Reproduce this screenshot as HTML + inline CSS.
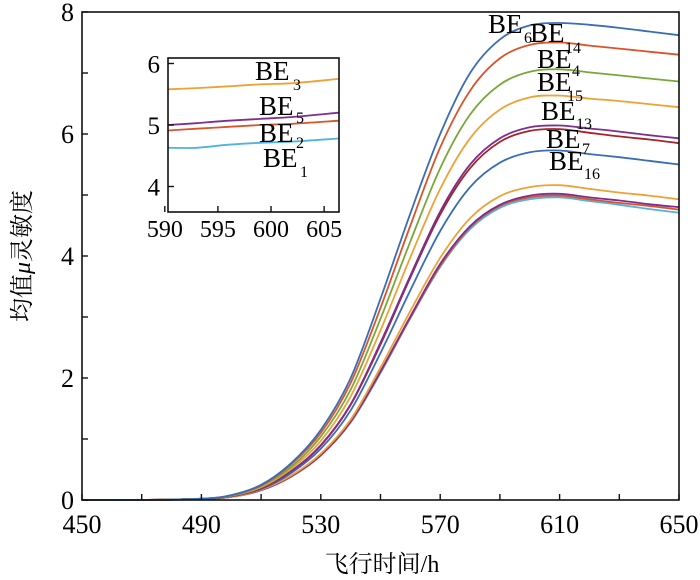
<!DOCTYPE html>
<html><head><meta charset="utf-8"><style>
body{margin:0;background:#fff}
svg{display:block}
text{font-family:"Liberation Serif","Noto Serif CJK SC",serif}
</style></head><body>
<svg id="chart" width="700" height="580" viewBox="0 0 700 580" font-family="Liberation Serif, Noto Serif CJK SC, serif"></svg>
<script>
const xs=[450,470,490,500,510,520,530,540,550,560,570,580,590,600,610,620,630,640,650];
const seriesNames=["BE6","BE14","BE4","BE15","BE13","BE7","BE16","BE3","BE5","BE2","BE1"];
const seriesColors=["#3a6db5","#d9542a","#78a83a","#eea236","#7e2f8e","#a2252a","#3a6db5","#eea236","#7e2f8e","#d9542a","#4fb2e0"];
const be6=[0,0,0.02,0.08,0.25,0.6,1.15,2.0,3.3,4.7,6.0,7.0,7.55,7.78,7.82,7.79,7.74,7.68,7.62];
const be14=[0,0,0.02,0.08,0.24,0.58,1.1,1.92,3.15,4.5,5.78,6.71,7.24,7.46,7.5,7.45,7.4,7.35,7.3];
const be4=[0,0,0.02,0.07,0.23,0.54,1.04,1.81,2.97,4.24,5.44,6.32,6.81,7.02,7.06,7.01,6.96,6.91,6.86];
const be15=[0,0,0.02,0.07,0.21,0.51,0.97,1.7,2.78,3.98,5.1,5.93,6.4,6.6,6.63,6.58,6.54,6.49,6.44];
const be13=[0,0,0.02,0.06,0.2,0.47,0.9,1.57,2.58,3.68,4.73,5.5,5.93,6.11,6.14,6.09,6.04,5.98,5.93];
const be7=[0,0,0.02,0.06,0.19,0.47,0.89,1.56,2.55,3.65,4.68,5.44,5.87,6.05,6.08,6.02,5.96,5.91,5.85];
const be16=[0,0,0.02,0.06,0.18,0.44,0.84,1.47,2.41,3.44,4.41,5.13,5.53,5.7,5.73,5.67,5.62,5.56,5.5];
const be3=[0,0,0.02,0.05,0.17,0.4,0.76,1.32,2.17,3.1,3.97,4.62,4.98,5.13,5.16,5.1,5.04,4.99,4.93];
const be5=[0,0,0.02,0.05,0.16,0.39,0.74,1.29,2.11,3.01,3.87,4.49,4.84,4.99,5.02,4.96,4.91,4.85,4.8];
const be2=[0,0,0.02,0.05,0.16,0.38,0.73,1.28,2.1,2.99,3.84,4.47,4.82,4.96,4.99,4.93,4.87,4.82,4.76];
const be1=[0,0,0.01,0.05,0.16,0.38,0.73,1.27,2.08,2.98,3.82,4.44,4.79,4.93,4.96,4.9,4.84,4.77,4.71];
const xTickLabels=[450,490,530,570,610,650];
const yTickLabels=[0,2,4,6,8];
const insetXs=[590.3,593,596,599,602,606.4];
const insetNames=["BE3","BE5","BE2","BE1"];
const insetColors=["#eea236","#7e2f8e","#d9542a","#4fb2e0"];
const inBe3=[5.58,5.6,5.63,5.66,5.68,5.75];
const inBe5=[5.0,5.03,5.07,5.1,5.13,5.2];
const inBe2=[4.91,4.94,4.97,5.0,5.02,5.07];
const inBe1=[4.63,4.63,4.68,4.71,4.73,4.78];
const insetXTicks=[590,595,600,605];
const insetYTicks=[4,5,6];

const NS="http://www.w3.org/2000/svg";
const FF="Liberation Serif, Noto Serif CJK SC, serif";
const svg=document.getElementById('chart');
function mk(tag,attrs,parent){const e=document.createElementNS(NS,tag);for(const k in attrs)e.setAttribute(k,attrs[k]);if(tag==='text')e.setAttribute('font-family',FF);(parent||svg).appendChild(e);return e;}
const L=82,R=679,T=12,B=500;
const X=v=>L+(v-450)/200*(R-L);
const Y=v=>B-v/8*(B-T);
function smooth(pts){let d="M"+pts[0][0].toFixed(1)+","+pts[0][1].toFixed(1);
 for(let i=0;i<pts.length-1;i++){const p0=pts[i-1]||pts[i],p1=pts[i],p2=pts[i+1],p3=pts[i+2]||p2;
  const c1=[p1[0]+(p2[0]-p0[0])/6,p1[1]+(p2[1]-p0[1])/6],c2=[p2[0]-(p3[0]-p1[0])/6,p2[1]-(p3[1]-p1[1])/6];
  d+=" C"+c1[0].toFixed(1)+","+c1[1].toFixed(1)+" "+c2[0].toFixed(1)+","+c2[1].toFixed(1)+" "+p2[0].toFixed(1)+","+p2[1].toFixed(1);}
 return d;}
const allSeries=[be6,be14,be4,be15,be13,be7,be16,be3,be5,be2,be1];
for(let s=allSeries.length-1;s>=0;s--){
 const p=mk('path',{d:smooth(xs.map((x,i)=>[X(x),Y(allSeries[s][i])])),fill:'none',stroke:seriesColors[s],'stroke-width':1.8});
 
 
}
const box=mk('rect',{x:L,y:T,width:R-L,height:B-T,fill:'none',stroke:'#111','stroke-width':1.6});


for(let v=450;v<=650;v+=20){mk('line',{x1:X(v),x2:X(v),y1:B,y2:B-6,stroke:'#111','stroke-width':1.4});}
for(let v=0;v<=8;v+=1){mk('line',{x1:L,x2:L+6,y1:Y(v),y2:Y(v),stroke:'#111','stroke-width':1.4});}
xTickLabels.forEach(v=>{const t=mk('text',{x:X(v),y:533,'font-size':26,'text-anchor':'middle'});t.textContent=v;
 
 });
yTickLabels.forEach(v=>{const t=mk('text',{x:74,y:Y(v)+9,'font-size':26,'text-anchor':'end'});t.textContent=v;
 
 });
function label(x,y,main,sub,sx,sy,fs,parentName){const t=mk('text',{x:x,y:y,'font-size':fs});t.textContent=main;
 
 
 const s=mk('text',{x:sx,y:sy,'font-size':16});s.textContent=sub;
 
 }
label(488,33,"BE","6",524,43,27,"be6");
label(530,42,"BE","14",565,53,27,"be14");
label(537,68,"BE","4",572,76,27,"be4");
label(537,91,"BE","15",567,101,27,"be15");
label(541,120,"BE","13",576,129,27,"be13");
label(546,148,"BE","7",582,154,27,"be7");
label(549,170,"BE","16",584,179,27,"be16");
const IL=168,IR=339,IT=58,IB=212;
const IX=v=>IL+(v-590.3)/(606.4-590.3)*(IR-IL);
const IY=v=>125-(v-5)*61.5;
const g=mk('g',{});


mk('rect',{x:IL,y:IT,width:IR-IL,height:IB-IT,fill:'#fff',stroke:'none'},g);
[inBe3,inBe5,inBe2,inBe1].forEach((arr,s)=>{
 const p=mk('path',{d:smooth(insetXs.map((x,i)=>[IX(x),IY(arr[i])])),fill:'none',stroke:insetColors[s],'stroke-width':1.8},g);
 
 
});
mk('rect',{x:IL,y:IT,width:IR-IL,height:IB-IT,fill:'none',stroke:'#111','stroke-width':1.6},g);
insetXTicks.forEach(v=>{mk('line',{x1:IX(v),x2:IX(v),y1:IB,y2:IB-6,stroke:'#111','stroke-width':1.4},g);
 const t=mk('text',{x:IX(v),y:237,'font-size':24,'text-anchor':'middle'},g);t.textContent=v;
 
 });
insetYTicks.forEach(v=>{mk('line',{x1:IL,x2:IL+6,y1:IY(v),y2:IY(v),stroke:'#111','stroke-width':1.4},g);
 const t=mk('text',{x:160,y:IY(v)+9,'font-size':25,'text-anchor':'end'},g);t.textContent=v;
 
 });
label(255,80,"BE","3",293,90,27,"inset-be3");
label(259,115,"BE","5",296,123,27,"inset-be5");
label(259,142,"BE","2",296,148,27,"inset-be2");
label(263,167,"BE","1",300,177,27,"inset-be1");
const xt=mk('text',{x:382,y:572,'font-size':24,'text-anchor':'middle'});xt.textContent="飞行时间/h";


const yt=mk('text',{x:0,y:0,'font-size':24,'text-anchor':'middle',transform:'translate(30,256) rotate(-90)'});
yt.innerHTML='均值<tspan font-style="italic">μ</tspan>灵敏度';


</script>
</body></html>
